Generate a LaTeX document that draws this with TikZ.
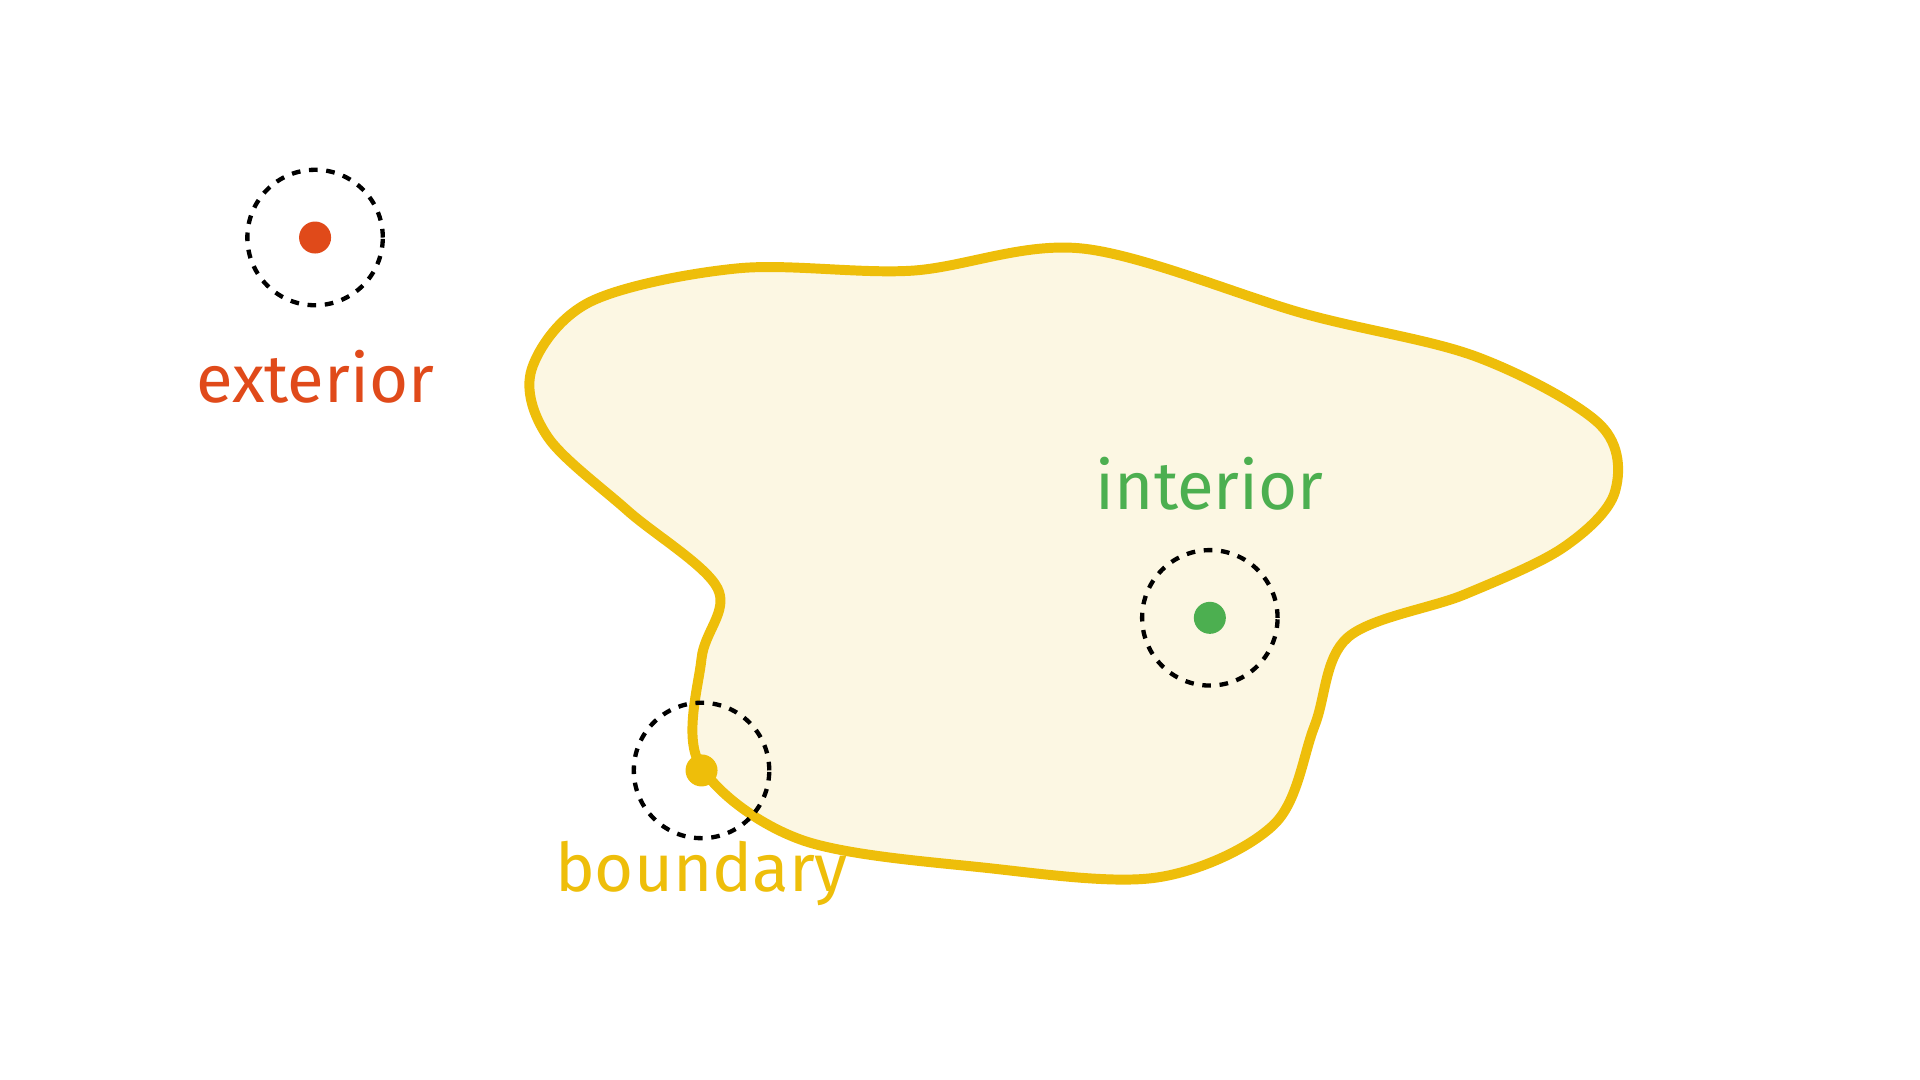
\documentclass[tikz,border=0pt]{standalone}
\usepackage{fontspec}
\setmainfont{Fira Sans}
\definecolor{ext}{HTML}{E04A1A}
\definecolor{intc}{HTML}{4CAF50}
\definecolor{bnd}{HTML}{EEBE0A}
\definecolor{blobfill}{HTML}{FCF7E3}
\begin{document}
\begin{tikzpicture}[x=0.01cm,y=-0.01cm,
  nbhd/.style={circle,draw=black,dash pattern=on 2pt off 2pt,line width=1pt,minimum size=1.1cm,inner sep=0pt},
  pt/.style={circle,fill=#1,minimum size=0.26cm,inner sep=0pt},
  lbl/.style={font=\fontsize{15.5}{18}\selectfont,text=#1}]
\useasboundingbox (0,0) rectangle (1560,877);
\draw[bnd,line width=2.3pt,fill=blobfill] plot[smooth cycle,tension=0.55] coordinates{
 (432,300) (480,245) (600,218) (740,220) (880,202) (1060,255) (1200,290)
 (1300,345) (1312,400) (1270,445) (1190,483) (1095,518) (1068,590)
 (1035,670) (940,713) (800,705) (650,682) (568,620)
 (570,535) (583,478) (510,415) (445,355)};
\node[nbhd] (en) at (256,193) {};
\node[pt=ext] (ep) at (256,193) {};
\node[lbl=ext] (el) at (256,306) {exterior};
\node[nbhd] (in) at (983,502) {};
\node[pt=intc] (ip) at (983,502) {};
\node[lbl=intc] (il) at (983,393) {interior};
\node[nbhd] (bn) at (570,626) {};
\node[pt=bnd] (bp) at (570,626) {};
\node[lbl=bnd] (bl) at (570,710) {boundary};
\end{tikzpicture}
\end{document}
